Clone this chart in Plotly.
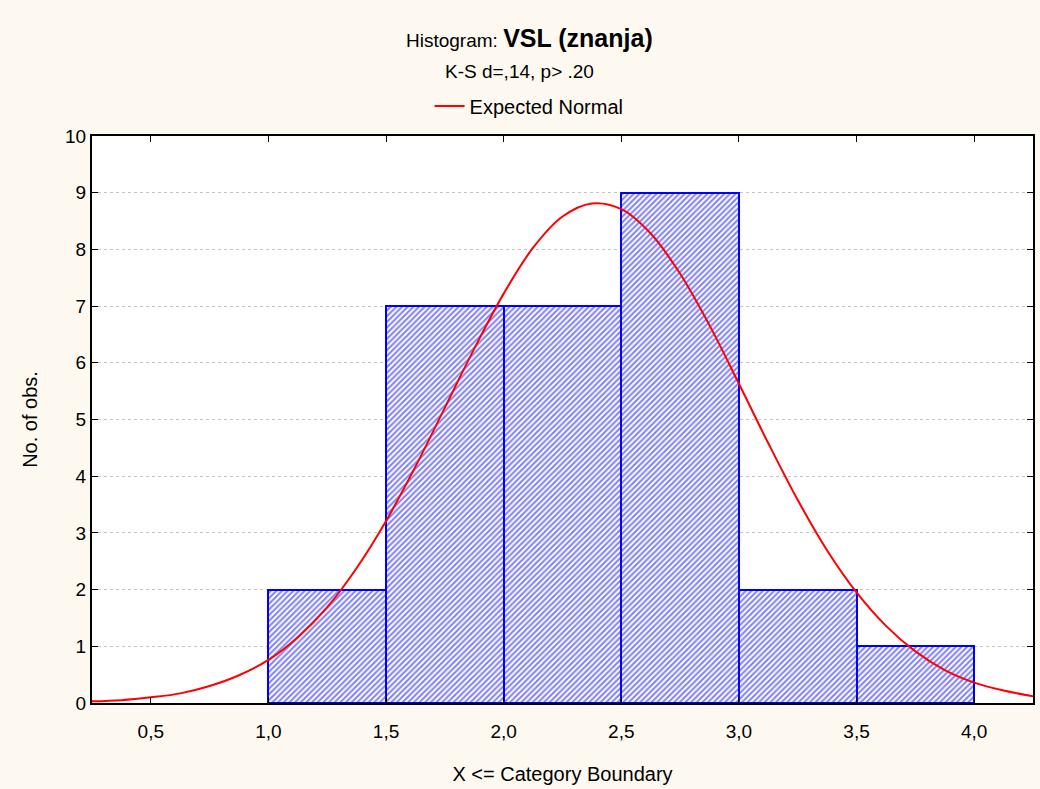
import plotly.graph_objects as go

# Histogram bins (centres of 0.5-wide bins) and counts
bin_centers = [1.25, 1.75, 2.25, 2.75, 3.25, 3.75]
counts = [2, 7, 7, 9, 2, 1]

# Expected normal curve
curve_x = [0.25, 0.375, 0.5, 0.625, 0.75, 0.875, 1.0, 1.125, 1.25, 1.375, 1.5, 1.625, 1.75, 1.875,
           2.0, 2.125, 2.25, 2.375, 2.5, 2.625, 2.75, 2.875, 3.0, 3.125, 3.25, 3.375, 3.5, 3.625,
           3.75, 3.875, 4.0, 4.125, 4.25]
curve_y = [0.03, 0.05, 0.10, 0.17, 0.30, 0.49, 0.76, 1.16, 1.69, 2.38, 3.21, 4.17, 5.21, 6.25,
           7.22, 8.03, 8.58, 8.81, 8.71, 8.28, 7.57, 6.66, 5.63, 4.58, 3.58, 2.69, 1.95, 1.36,
           0.91, 0.58, 0.36, 0.22, 0.12]

x_tickvals = [0.5, 1.0, 1.5, 2.0, 2.5, 3.0, 3.5, 4.0]
x_ticktext = ["0,5", "1,0", "1,5", "2,0", "2,5", "3,0", "3,5", "4,0"]
y_tickvals = list(range(0, 11))

FONT = "Liberation Sans, Arial, sans-serif"
W, H = 1040, 789
ML, MR, MT, MB = 92, 5, 136, 86
plot_h = H - MT - MB
plot_w = W - ML - MR

def py(ypx):
    return (H - MB - ypx) / plot_h

def px(xpx):
    return (xpx - ML) / plot_w

fig = go.Figure()
fig.add_trace(go.Bar(
    x=bin_centers, y=counts, width=0.5,
    marker=dict(color="white",
                line=dict(color="#0000FF", width=2),
                pattern=dict(shape="/", fgcolor="#0000FF", bgcolor="white", size=4, solidity=0.5)),
    showlegend=False, hoverinfo="x+y"))
fig.add_trace(go.Scatter(
    x=curve_x, y=curve_y, mode="lines", name="Expected Normal",
    line=dict(color="#FF0000", width=2, shape="spline")))

fig.update_layout(
    width=W, height=H,
    paper_bgcolor="#FDF9F0", plot_bgcolor="white",
    margin=dict(l=ML, r=MR, t=MT, b=MB),
    font=dict(family=FONT, size=19, color="black"),
    bargap=0,
    legend=dict(orientation="h", x=px(530), xanchor="center", y=py(106), yanchor="middle",
                bgcolor="rgba(0,0,0,0)", font=dict(size=20)),
    annotations=[
        dict(text="Histogram: <b><span style='font-size:25px'>VSL (znanja)</span></b>",
             x=px(530), y=py(38), xref="paper", yref="paper", showarrow=False, yanchor="middle",
             font=dict(size=19)),
        dict(text="K-S d=,14, p> .20", x=px(520), y=py(71), xref="paper", yref="paper",
             showarrow=False, yanchor="middle", font=dict(size=19)),
    ],
)

fig.update_xaxes(
    range=[0.25, 4.25], tickvals=x_tickvals, ticktext=x_ticktext,
    ticks="inside", ticklen=6, tickcolor="black", showgrid=False,
    showline=True, linecolor="black", linewidth=2, mirror="ticks",
    zeroline=False, tickfont=dict(size=19), ticklabelstandoff=10,
    title=dict(text="X <= Category Boundary", font=dict(size=20), standoff=26))
fig.update_yaxes(
    range=[0, 10], tickvals=y_tickvals,
    ticks="inside", ticklen=6, tickcolor="black",
    showgrid=True, gridcolor="#C4C4C4", griddash="3px,3px", gridwidth=1,
    showline=True, linecolor="black", linewidth=2, mirror="ticks",
    zeroline=False, tickfont=dict(size=19),
    title=dict(text="No. of obs.", font=dict(size=20), standoff=22))

fig.write_html("out.html", config={"displayModeBar": False},
               post_script="document.body.style.margin='0';document.body.style.overflow='hidden';")
